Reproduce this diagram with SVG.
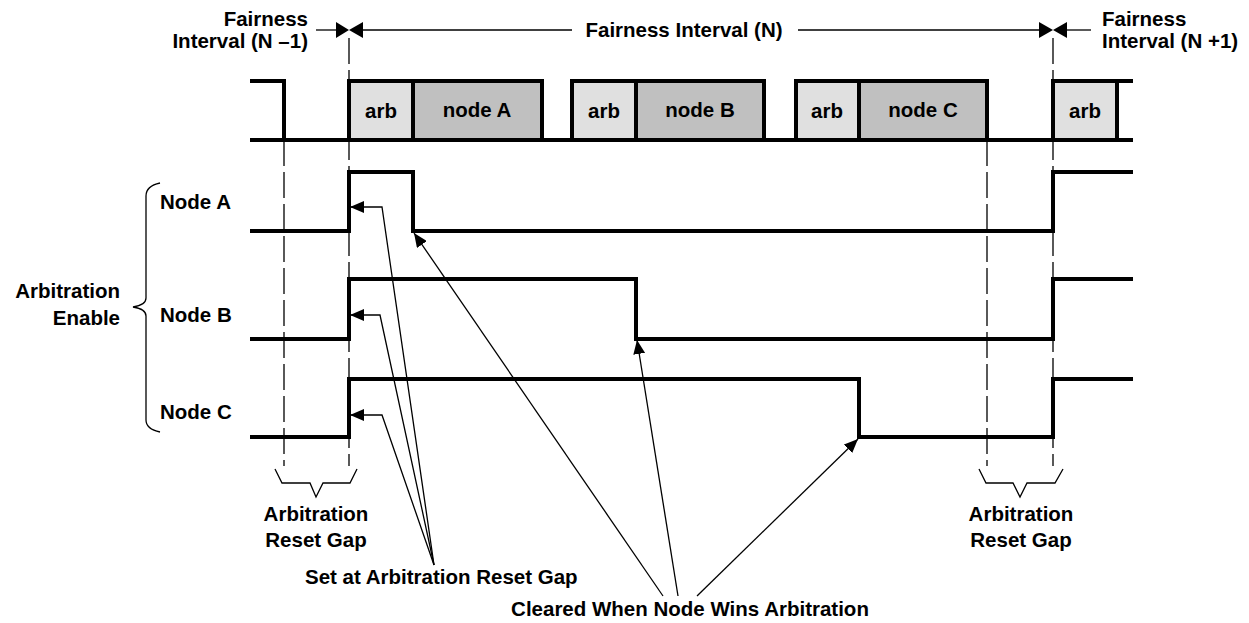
<svg xmlns="http://www.w3.org/2000/svg" width="1249" height="623" viewBox="0 0 1249 623">
<defs>
<style>
text{font-family:"Liberation Sans",Arial,sans-serif;font-weight:bold;font-size:20.5px;fill:#000}
.sig{fill:none;stroke:#000;stroke-width:4;stroke-linejoin:miter}
.thin{fill:none;stroke:#000;stroke-width:1.3}
.dash{fill:none;stroke:#000;stroke-width:1.3;stroke-dasharray:26 6}
.arb{fill:#e0e0e0;stroke:#000;stroke-width:4}
.nd{fill:#c0c0c0;stroke:#000;stroke-width:4}
.tri{fill:#000;stroke:none}
.c{text-anchor:middle}
.r{text-anchor:end}
</style>
<marker id="ah" viewBox="0 0 14 12" refX="14" refY="6" markerWidth="14" markerHeight="12" markerUnits="userSpaceOnUse" orient="auto">
<path d="M0,0 L14,6 L0,12 Z" fill="#000"/>
</marker>
</defs>

<g id="dimension">
<line class="thin" x1="316" y1="30" x2="336" y2="30"/>
<line class="thin" x1="363" y1="30" x2="572" y2="30"/>
<line class="thin" x1="798" y1="30" x2="1039" y2="30"/>
<line class="thin" x1="1067" y1="30" x2="1091" y2="30"/>
<path class="tri" d="M336,22 L349,30 L336,38 Z M363,22 L349,30 L363,38 Z"/>
<path class="tri" d="M1039,22 L1053,30 L1039,38 Z M1067,22 L1053,30 L1067,38 Z"/>
<text class="c" x="684" y="37">Fairness Interval (N)</text>
<text class="r" x="308" y="26">Fairness</text>
<text class="r" x="308" y="48">Interval (N –1)</text>
<text x="1102" y="26">Fairness</text>
<text x="1102" y="48">Interval (N +1)</text>
</g>

<g id="guides">
<line class="dash" x1="284" y1="140" x2="284" y2="466"/>
<line class="dash" x1="349" y1="38" x2="349" y2="466"/>
<line class="dash" x1="987" y1="140" x2="987" y2="466"/>
<line class="dash" x1="1053" y1="38" x2="1053" y2="466"/>
</g>

<g id="bus">
<rect class="arb" x="349" y="81" width="64" height="59"/>
<rect class="nd" x="413" y="81" width="129" height="59"/>
<rect class="arb" x="572" y="81" width="64" height="59"/>
<rect class="nd" x="636" y="81" width="128" height="59"/>
<rect class="arb" x="796" y="81" width="63" height="59"/>
<rect class="nd" x="859" y="81" width="128" height="59"/>
<rect class="arb" x="1053" y="81" width="64" height="59"/>
<polyline class="sig" points="250,81 284,81 284,140"/>
<line class="sig" x1="250" y1="140" x2="1133" y2="140"/>
<line class="sig" x1="1117" y1="81" x2="1133" y2="81"/>
<text class="c" x="381" y="118">arb</text>
<text class="c" x="477" y="117">node A</text>
<text class="c" x="604" y="118">arb</text>
<text class="c" x="700" y="117">node B</text>
<text class="c" x="827" y="118">arb</text>
<text class="c" x="923" y="117">node C</text>
<text class="c" x="1085" y="118">arb</text>
</g>

<g id="nodeA">
<polyline class="sig" points="250,231 349,231 349,172 413,172 413,231 1053,231 1053,172 1133,172"/>
<text x="160" y="209">Node A</text>
</g>
<g id="nodeB">
<polyline class="sig" points="250,339 349,339 349,279 636,279 636,339 1053,339 1053,279 1133,279"/>
<text x="160" y="322">Node B</text>
</g>
<g id="nodeC">
<polyline class="sig" points="250,437 349,437 349,379 859,379 859,437 1053,437 1053,379 1133,379"/>
<text x="160" y="419">Node C</text>
</g>

<g id="enable">
<path class="thin" d="M160,183 Q146,186 146,196 L146,298 Q146,305 133,307 Q146,309 146,316 L146,420 Q146,429 160,432"/>
<text class="r" x="120" y="298">Arbitration</text>
<text class="r" x="120" y="325">Enable</text>
</g>

<g id="gapLeft">
<path class="thin" d="M275,469 L282,483 L310,483 L316,497 L323,483 L350,483 L357,469"/>
<text class="c" x="316" y="521">Arbitration</text>
<text class="c" x="316" y="547">Reset Gap</text>
</g>
<g id="gapRight">
<path class="thin" d="M979,469 L986,483 L1013,483 L1020,497 L1027,483 L1055,483 L1063,469"/>
<text class="c" x="1021" y="521">Arbitration</text>
<text class="c" x="1021" y="547">Reset Gap</text>
</g>

<g id="connectors">
<polyline class="thin" points="434,565 382,207 350,207" marker-end="url(#ah)"/>
<polyline class="thin" points="434,565 380,315 350,315" marker-end="url(#ah)"/>
<polyline class="thin" points="434,565 382,415 350,415" marker-end="url(#ah)"/>
<line class="thin" x1="663" y1="596" x2="414" y2="233" marker-end="url(#ah)"/>
<line class="thin" x1="678" y1="596" x2="637" y2="340" marker-end="url(#ah)"/>
<line class="thin" x1="697" y1="596" x2="858" y2="439" marker-end="url(#ah)"/>
</g>

<g id="callouts">
<text x="305" y="584">Set at Arbitration Reset Gap</text>
<text class="c" x="690" y="616">Cleared When Node Wins Arbitration</text>
</g>
</svg>
